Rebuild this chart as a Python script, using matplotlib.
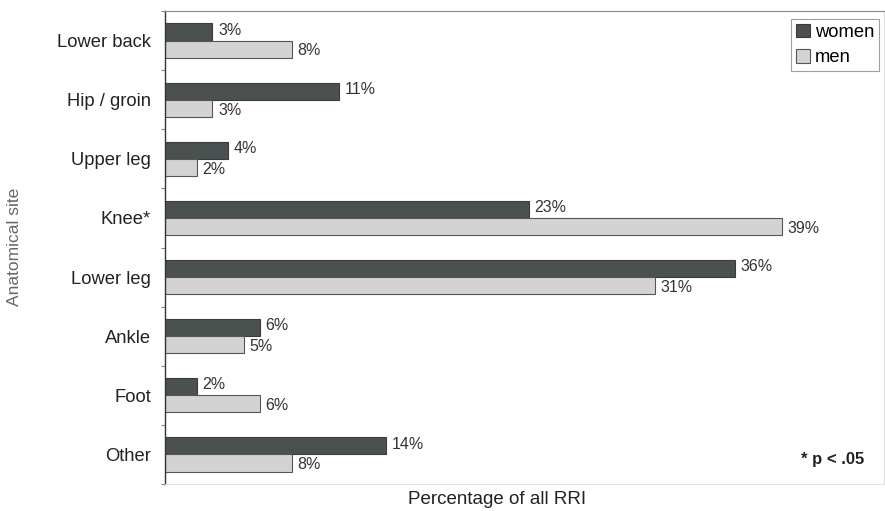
import matplotlib
matplotlib.use("Agg")
import matplotlib.pyplot as plt
import numpy as np

plt.rcParams['font.family'] = ['Liberation Sans', 'DejaVu Sans']

sites = ["Lower back", "Hip / groin", "Upper leg", "Knee*", "Lower leg", "Ankle", "Foot", "Other"]
women = [3, 11, 4, 23, 36, 6, 2, 14]
men = [8, 3, 2, 39, 31, 5, 6, 8]

W, H = 885, 511
fig = plt.figure(figsize=(W / 100, H / 100), dpi=100)
ax = fig.add_axes([165 / W, 1 - 484 / H, (884 - 165) / W, (484 - 11) / H])

y = np.arange(len(sites))
h = 0.29
dark = "#4b5150"
light = "#d3d3d3"
ax.barh(y - h / 2, women, height=h, color=dark, edgecolor="#3a3d3d", linewidth=0.8, label="women")
ax.barh(y + h / 2, men, height=h, color=light, edgecolor="#555555", linewidth=0.8, label="men")

for yi, v in zip(y, women):
    ax.text(v + 0.35, yi - h / 2 - 0.03, f"{v}%", va="center", ha="left", fontsize=11.5, color="#333333")
for yi, v in zip(y, men):
    ax.text(v + 0.35, yi + h / 2 + 0.03, f"{v}%", va="center", ha="left", fontsize=11.5, color="#333333")

ax.set_xlim(0, 45.45)
ax.set_ylim(len(sites) - 0.5, -0.5)
ax.set_xticks([])
ax.set_yticks(y)
ax.set_yticklabels(sites, fontsize=13.2, color="#222222")
ax.tick_params(axis="y", which="major", length=0, pad=10)
ax.set_yticks(np.arange(len(sites) + 1) - 0.5, minor=True)
ax.tick_params(axis="y", which="minor", length=3, color="#888888", width=0.8)

ax.spines["left"].set_color("#333333")
ax.spines["left"].set_linewidth(1.0)
ax.spines["top"].set_color("#888888")
ax.spines["right"].set_color("#dddddd")
ax.spines["bottom"].set_color("#e2e2e2")

leg = ax.legend(loc="upper right", bbox_to_anchor=(0.9985, 0.99), fontsize=13.2, frameon=True,
                fancybox=False, edgecolor="#888888", handlelength=0.75, handleheight=0.75,
                handletextpad=0.3, borderpad=0.25, labelspacing=0.45, borderaxespad=0.2)
leg.get_frame().set_linewidth(0.8)

ax.text(0.9725, 0.052, "* p < .05", transform=ax.transAxes, ha="right", va="center",
        fontsize=12, fontweight="bold", color="#222222")

fig.text(497 / W, 1 - 500 / H, "Percentage of all RRI", ha="center", va="center", fontsize=13.5, color="#222222")
fig.text(15 / W, 1 - 247 / H, "Anatomical site", ha="center", va="center", rotation=90, fontsize=12.5, color="#666666")

fig.savefig("out.png", dpi=100)
